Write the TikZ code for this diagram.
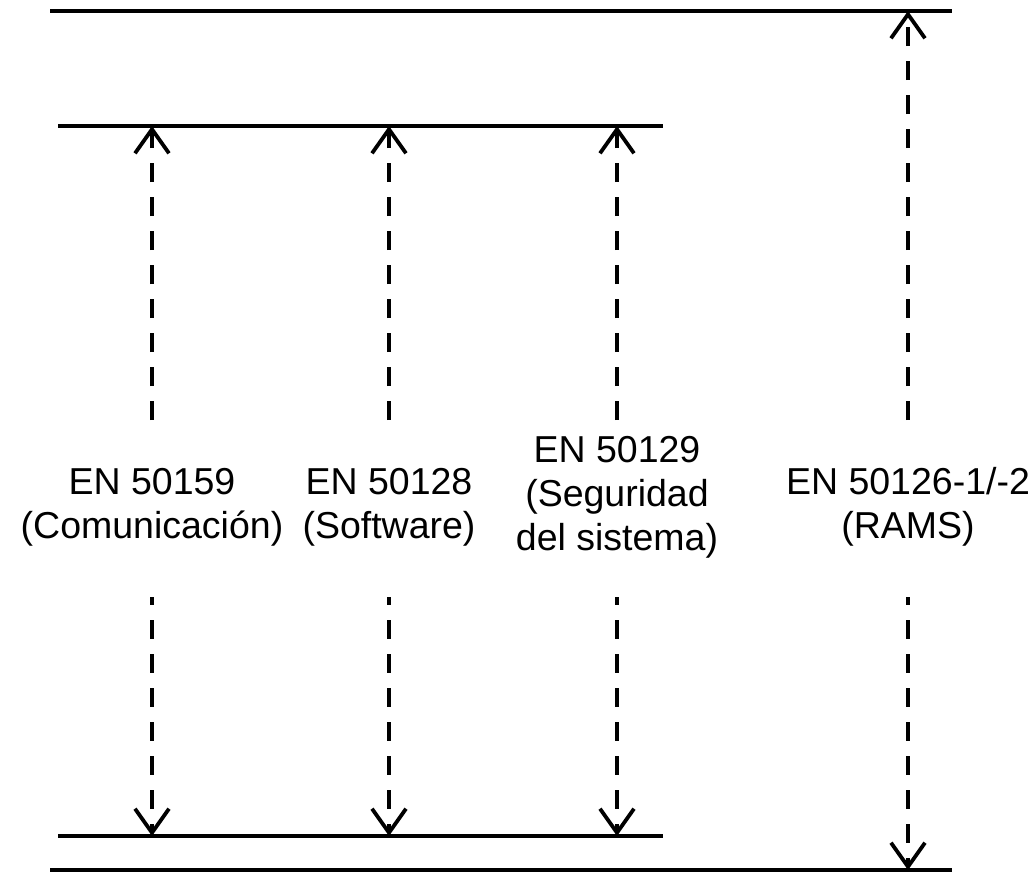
\documentclass[tikz,border=0pt]{standalone}
\usepackage{fontspec}
\setmainfont{Liberation Sans}
\usetikzlibrary{arrows.meta}
\begin{document}
\begin{tikzpicture}[x=1pt,y=-1pt,
  hline/.style={line width=3.4pt},
  darrow/.style={line width=4pt, dash pattern=on 19pt off 15pt,
    -{Straight Barb[length=24pt,width=34pt,line width=3.8pt]}},
  lowdash/.style={dash phase=11pt},
  lbl/.style={font=\fontsize{37.5}{44}\selectfont, align=center, inner sep=0pt}]
\useasboundingbox (0,0) rectangle (1035,871);
% horizontal lines
\coordinate (topL) at (50,11);   \coordinate (topR) at (952,11);
\coordinate (midL) at (58,126);  \coordinate (midR) at (663,126);
\coordinate (lowL) at (58,836);  \coordinate (lowR) at (663,836);
\coordinate (botL) at (50,870);  \coordinate (botR) at (952,870);
\draw[hline] (topL) -- (topR);
\draw[hline] (midL) -- (midR);
\draw[hline] (lowL) -- (lowR);
\draw[hline] (botL) -- (botR);
% labels
\node[lbl] (com) at (152,507) {EN 50159\\(Comunicación)};
\node[lbl] (sw)  at (389,507) {EN 50128\\(Software)};
\node[lbl] (seg) at (617,497) {EN 50129\\(Seguridad\\del sistema)};
\node[lbl] (rams) at (908,507) {EN 50126-1/-2\\(RAMS)};
% arrow ends
\foreach \n/\x in {a/152,b/389,c/617}{
  \coordinate (\n-up) at (\x,420);
  \coordinate (\n-top) at (\x,126);
  \coordinate (\n-dn) at (\x,597);
  \coordinate (\n-bot) at (\x,836);
}
\coordinate (d-up) at (908,420);
\coordinate (d-top) at (908,11);
\coordinate (d-dn) at (908,597);
\coordinate (d-bot) at (908,870);
\foreach \n in {a,b,c,d}{
  \draw[darrow] (\n-up) -- (\n-top);
  \draw[darrow,lowdash] (\n-dn) -- (\n-bot);
}
\end{tikzpicture}
\end{document}
